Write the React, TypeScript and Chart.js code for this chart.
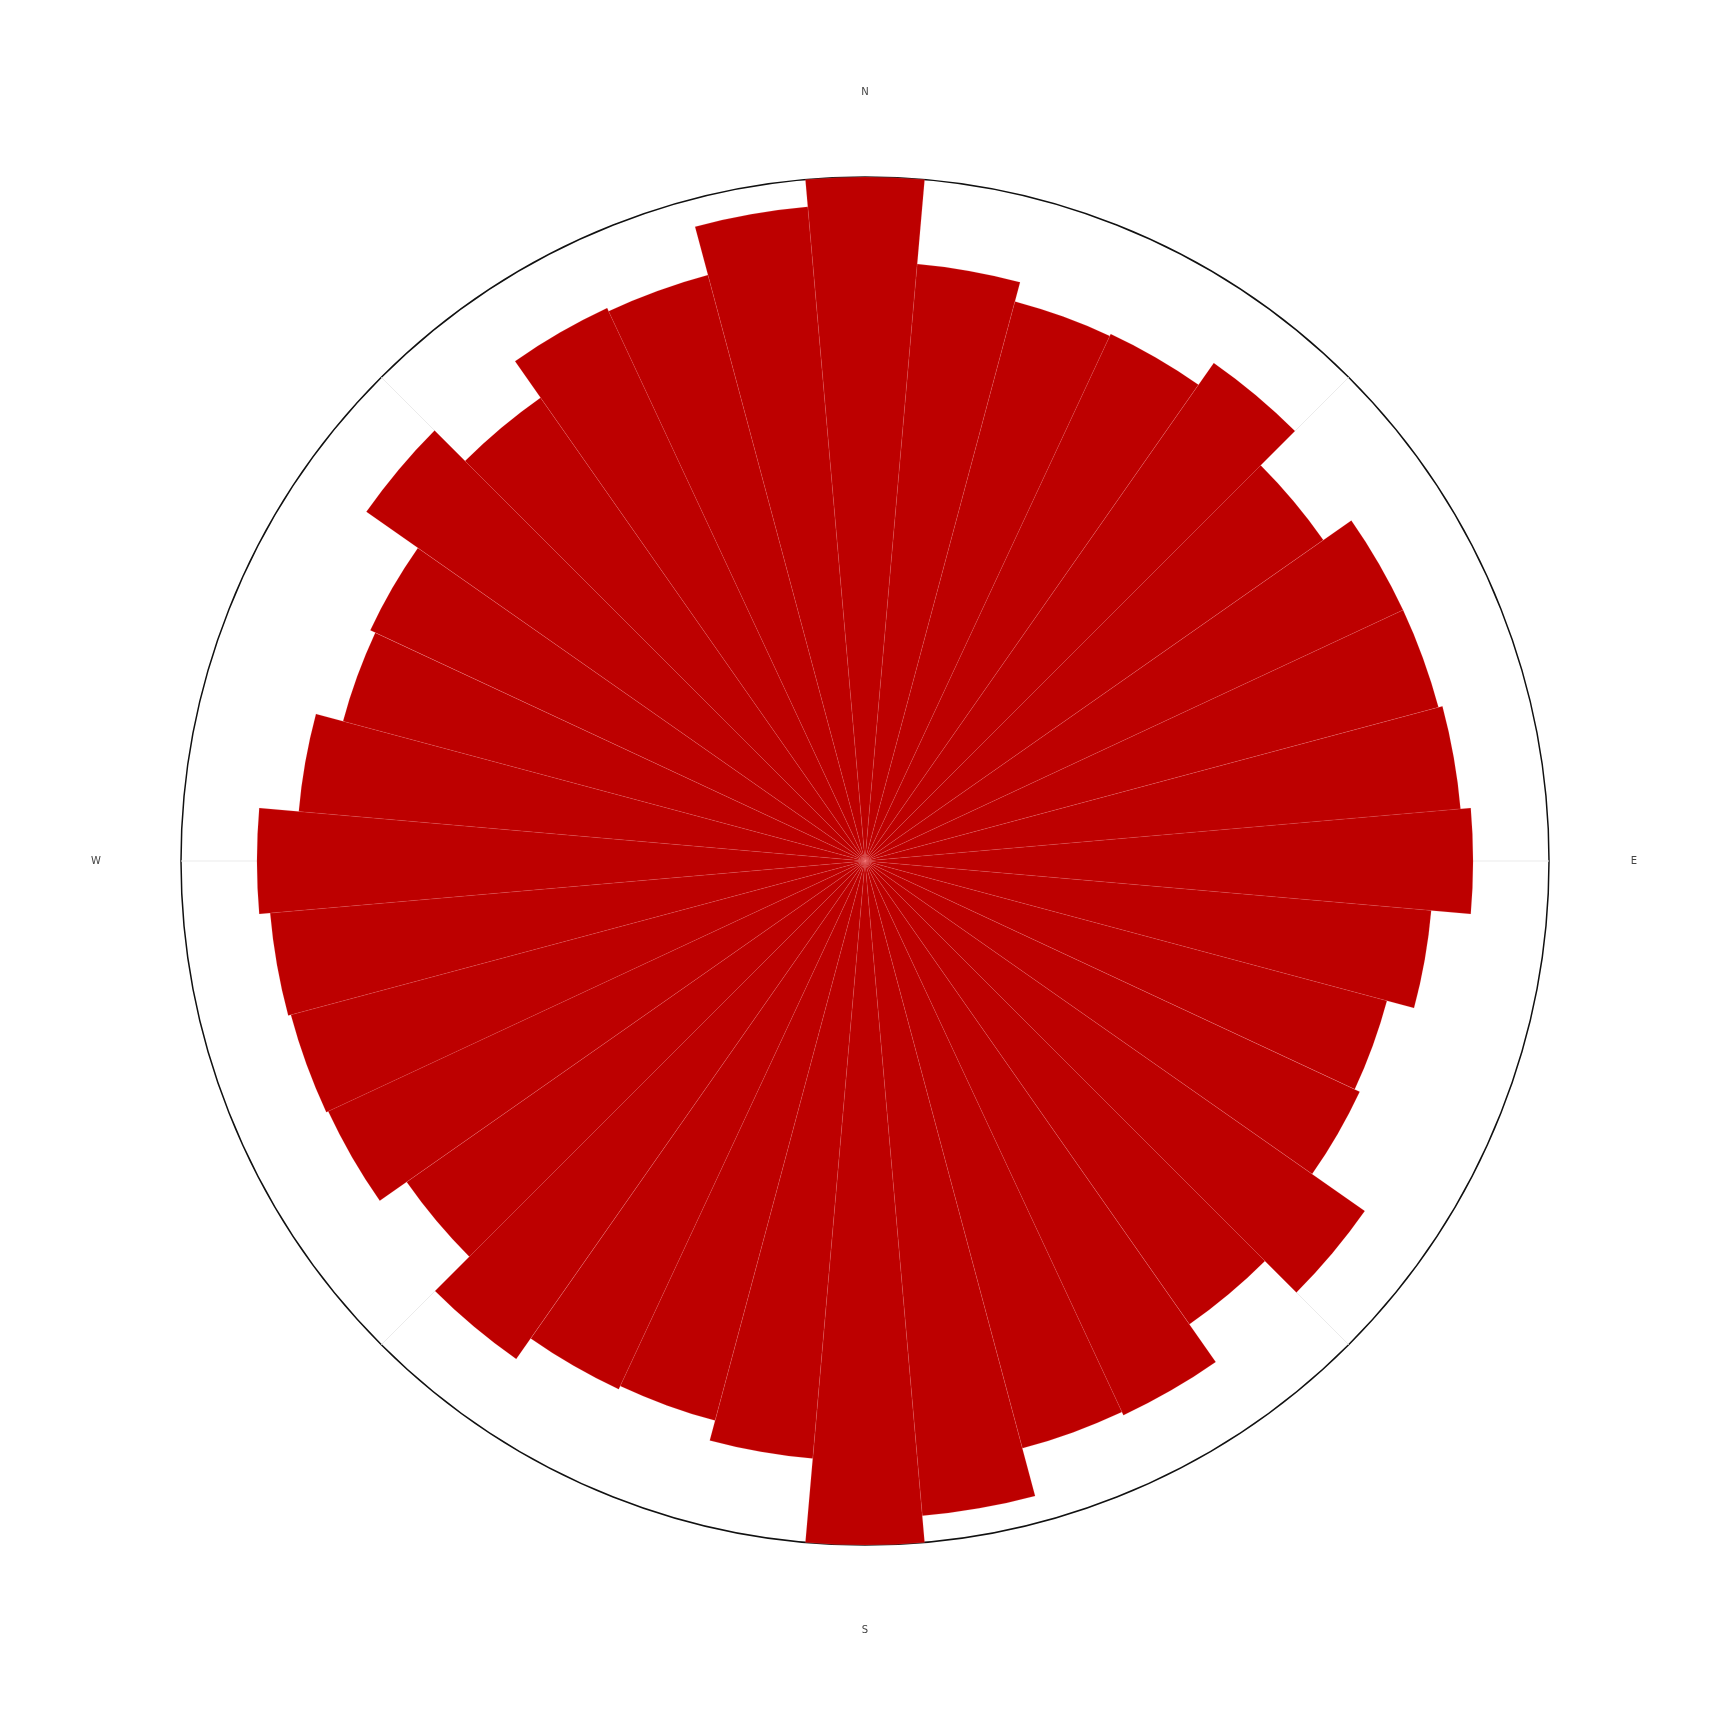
import React, { useEffect, useRef } from "react";
import { Chart, registerables } from "chart.js";

Chart.register(...registerables);

// Direction bins (degrees, clockwise from North)
const directions = [
  "0°", "10°", "20°", "30°", "40°", "50°", "60°", "70°", "80°",
  "90°", "100°", "110°", "120°", "130°", "140°", "150°", "160°", "170°",
  "180°", "190°", "200°", "210°", "220°", "230°", "240°", "250°", "260°",
  "270°", "280°", "290°", "300°", "310°", "320°", "330°", "340°", "350°",
];

// Bar lengths (outer circle = 100)
const values = [
  100, 87.6, 84.7, 85.0, 88.9, 81.8, 86.8, 86.8, 87.4,
  88.9, 83.1, 79.0, 79.8, 89.2, 82.7, 89.4, 88.9, 96.1,
  100, 87.7, 84.7, 85.2, 88.9, 81.8, 86.6, 86.9, 87.3,
  88.9, 83.1, 79.0, 79.8, 89.0, 82.7, 89.2, 88.7, 96.0,
];

const compassLabels = ["N", "E", "S", "W"];
const compassAngles = [0, 90, 180, 270];
const gridAngles = [0, 45, 90, 135, 180, 225, 270, 315];
const radialMax = 100;

const compassPlugin = {
  id: "compass",
  beforeDatasetsDraw(chart: any) {
    const s = chart.scales.r;
    const ctx = chart.ctx;
    const R = s.getDistanceFromCenterForValue(radialMax);
    ctx.save();
    ctx.strokeStyle = "#ebebeb";
    ctx.lineWidth = 1;
    gridAngles.forEach((a) => {
      const rad = (a * Math.PI) / 180;
      ctx.beginPath();
      ctx.moveTo(s.xCenter, s.yCenter);
      ctx.lineTo(s.xCenter + R * Math.sin(rad), s.yCenter - R * Math.cos(rad));
      ctx.stroke();
    });
    ctx.restore();
  },
  afterDatasetsDraw(chart: any) {
    const s = chart.scales.r;
    const ctx = chart.ctx;
    const R = s.getDistanceFromCenterForValue(radialMax) + 85;
    ctx.save();
    ctx.fillStyle = "#444";
    ctx.font = "10px 'DejaVu Sans', sans-serif";
    ctx.textAlign = "center";
    ctx.textBaseline = "middle";
    compassLabels.forEach((t, i) => {
      const rad = (compassAngles[i] * Math.PI) / 180;
      ctx.fillText(t, s.xCenter + R * Math.sin(rad), s.yCenter - R * Math.cos(rad));
    });
    ctx.restore();
  },
};

export default function App() {
  const ref = useRef<HTMLCanvasElement | null>(null);
  useEffect(() => {
    if (!ref.current) return;
    const chart = new Chart(ref.current, {
      type: "polarArea",
      data: {
        labels: directions,
        datasets: [
          {
            data: values,
            backgroundColor: "#bd0000",
            borderColor: "rgba(255,140,140,0.3)",
            borderWidth: 0.5,
          },
        ],
      },
      options: {
        responsive: false,
        animation: false,
        layout: { padding: { top: 177, bottom: 183, left: 181, right: 179 } },
        plugins: { legend: { display: false }, tooltip: { enabled: false } },
        scales: {
          r: {
            min: 0,
            max: radialMax,
            startAngle: -5,
            ticks: { display: false, stepSize: radialMax },
            pointLabels: { display: false },
            angleLines: { display: false },
            grid: { color: "#111", lineWidth: 1.5 },
          },
        },
      },
      plugins: [compassPlugin],
    });
    return () => chart.destroy();
  }, []);
  return (
    <div style={{ position: "absolute", left: 0, top: 0, width: 1728, height: 1728, background: "#fff" }}>
      <canvas ref={ref} width={1728} height={1728} />
    </div>
  );
}
